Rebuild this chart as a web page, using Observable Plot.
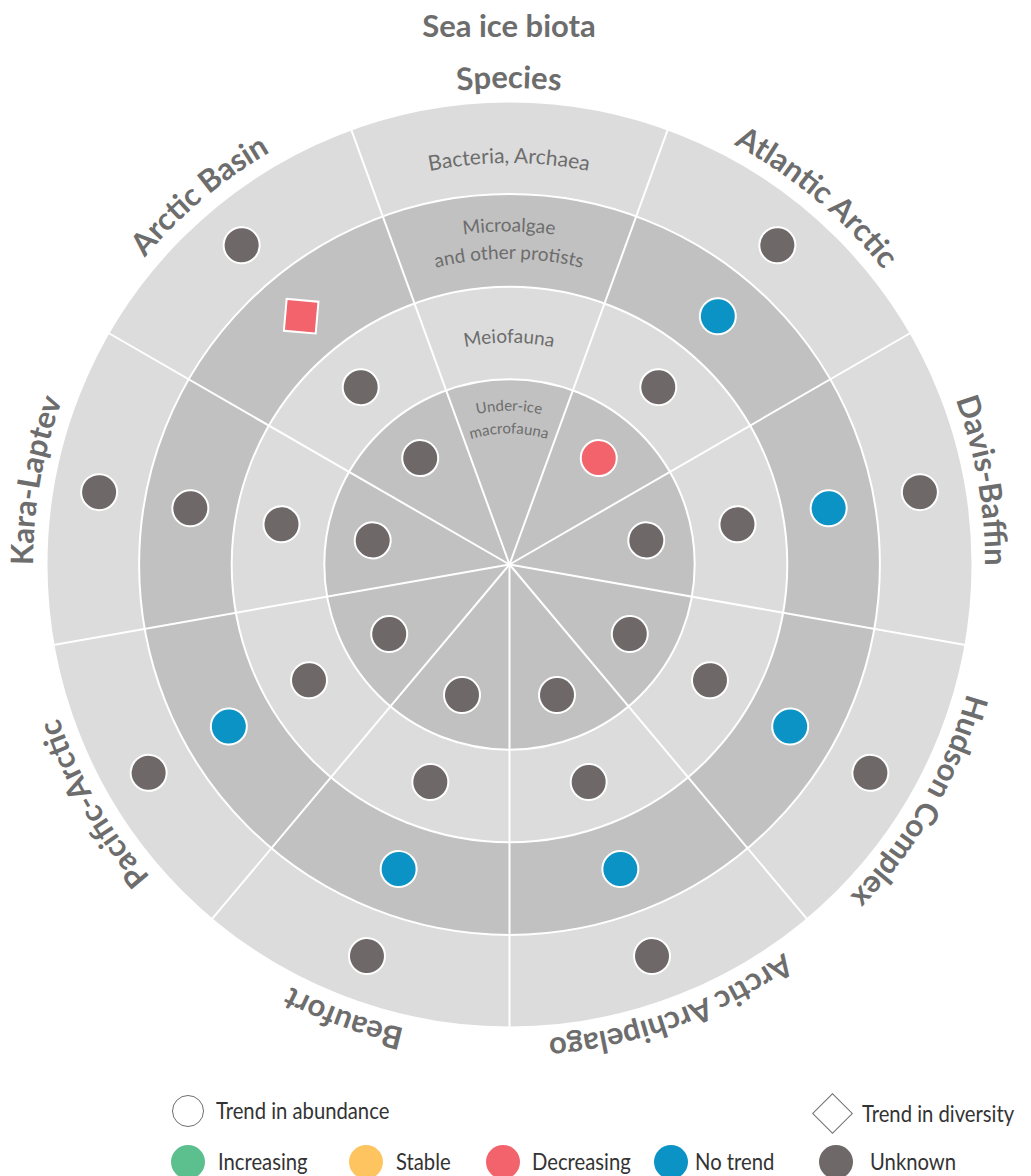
<!DOCTYPE html>
<html>
<head>
<meta charset="utf-8">
<script src="https://cdn.jsdelivr.net/npm/d3@7"></script>
<script src="https://cdn.jsdelivr.net/npm/@observablehq/plot@0.6"></script>
<style>
  body { margin: 0; background: #fff; font-family: Lato, "Open Sans", sans-serif; }
  #wrap { position: relative; width: 1031px; height: 1176px; overflow: hidden; }
  #title { position: absolute; left: 0; top: 6px; width: 1018px; text-align: center;
           font: 700 31px Lato, sans-serif; color: #6d6d6d; }
  #chart { position: absolute; left: 0; top: 50px; }
  .lg { position: absolute; }
  .lgc { position: absolute; border-radius: 50%; box-sizing: border-box; }
  .lgt { position: absolute; font: 400 23px Lato, sans-serif; color: #333; white-space: nowrap;
         transform: scaleX(0.88); transform-origin: 0 50%; line-height: 1; }
</style>
</head>
<body>
<div id="wrap">
  <div id="title">Sea ice biota</div>
  <div id="chart"></div>
  <div id="legend"></div>
</div>
<script>
// ---------- data ----------
const regions = ["Atlantic Arctic", "Davis-Baffin", "Hudson Complex", "Arctic Archipelago",
                 "Beaufort", "Pacific-Arctic", "Kara-Laptev", "Arctic Basin"];
const regionAngles = [40, 80, 120, 160, 200, 240, 280, 320];   // degrees clockwise from north
const speciesLabel = "Species";
const speciesAngle = 0;

const groups = ["Bacteria, Archaea", "Microalgae and other protists", "Meiofauna", "Under-ice macrofauna"];
const groupLabelLines = [["Bacteria, Archaea"], ["Microalgae", "and other protists"], ["Meiofauna"], ["Under-ice", "macrofauna"]];
const groupOuter = [5, 4, 3, 2];          // ring outer radius (ring units)
const groupDotRadius = [4.5, 3.5, 2.5, 1.5];

const bacteriaStatus   = ["Unknown", "Unknown", "Unknown", "Unknown", "Unknown", "Unknown", "Unknown", "Unknown"];
const microalgaeStatus = ["No trend", "No trend", "No trend", "No trend", "No trend", "No trend", "Unknown", "Decreasing"];
const meiofaunaStatus  = ["Unknown", "Unknown", "Unknown", "Unknown", "Unknown", "Unknown", "Unknown", "Unknown"];
const macrofaunaStatus = ["Decreasing", "Unknown", "Unknown", "Unknown", "Unknown", "Unknown", "Unknown", "Unknown"];

const bacteriaType   = ["abundance", "abundance", "abundance", "abundance", "abundance", "abundance", "abundance", "abundance"];
const microalgaeType = ["abundance", "abundance", "abundance", "abundance", "abundance", "abundance", "abundance", "diversity"];
const meiofaunaType  = ["abundance", "abundance", "abundance", "abundance", "abundance", "abundance", "abundance", "abundance"];
const macrofaunaType = ["abundance", "abundance", "abundance", "abundance", "abundance", "abundance", "abundance", "abundance"];

const statusNames  = ["Increasing", "Stable", "Decreasing", "No trend", "Unknown"];
const statusColors = ["#5bbf8e", "#fdc45f", "#f2636c", "#0b93c6", "#6e6868"];
const trendTypes   = ["Trend in abundance", "Trend in diversity"];

// ---------- derived tables ----------
const statusByGroup = [bacteriaStatus, microalgaeStatus, meiofaunaStatus, macrofaunaStatus];
const typeByGroup = [bacteriaType, microalgaeType, meiofaunaType, macrofaunaType];
const rad = a => a * Math.PI / 180;

const rings = groups.map((g, i) => ({group: g, outer: groupOuter[i]}));
const dotRows = [];
groups.forEach((g, gi) => regions.forEach((reg, ri) => dotRows.push({
  group: g, region: reg, angle: regionAngles[ri], r: groupDotRadius[gi],
  status: statusByGroup[gi][ri], type: typeByGroup[gi][ri]
})));
const sectorCenters = [speciesAngle, ...regionAngles];
const edges = sectorCenters.map(a => ({angle: a - 20, r: groupOuter[0]}));

// ---------- layout ----------
const U = 92.6, CX = 509, CY = 514, W = 1031, H = 1030;
const ringLight = "#dcdcdc", ringDark = "#c1c1c1";
const textGray = "#6d6d6d";
const outerLabelR = 5.14;
const groupLabelR = [[4.33], [3.59, 3.295], [2.39], [1.655, 1.41]];
const groupLabelSize = [21, 19, 19, 15];

// curved text along clockwise circle arcs, placed through Plot's scales.
let uid = 0;
function curvedText(labels) {
  return (index, scales) => {
    const ns = "http://www.w3.org/2000/svg";
    const g = document.createElementNS(ns, "g");
    const cx = scales.x(0), cy = scales.y(0);
    labels.forEach(lab => {
      lab.lines.forEach((line, li) => {
        const R = scales.x(lab.r[li]) - scales.x(0);
        const pt = a => [cx + R * Math.sin(rad(a)), cy - R * Math.cos(rad(a))];
        const [x0, y0] = pt(lab.angle - 90), [x1, y1] = pt(lab.angle), [x2, y2] = pt(lab.angle + 90);
        const id = "arc" + (uid++);
        const path = document.createElementNS(ns, "path");
        path.setAttribute("id", id);
        path.setAttribute("fill", "none");
        path.setAttribute("stroke", "none");
        path.setAttribute("d", `M${x0},${y0}A${R},${R} 0 0 1 ${x1},${y1}A${R},${R} 0 0 1 ${x2},${y2}`);
        g.appendChild(path);
        const text = document.createElementNS(ns, "text");
        text.setAttribute("fill", textGray);
        text.setAttribute("font-family", "Lato, 'Open Sans', sans-serif");
        text.setAttribute("font-size", lab.size);
        text.setAttribute("font-weight", lab.weight);
        text.setAttribute("text-anchor", "middle");
        const tp = document.createElementNS(ns, "textPath");
        tp.setAttribute("href", "#" + id);
        tp.setAttributeNS("http://www.w3.org/1999/xlink", "xlink:href", "#" + id);
        tp.setAttribute("startOffset", "50%");
        tp.textContent = line;
        text.appendChild(tp);
        g.appendChild(text);
      });
    });
    return g;
  };
}

const outerLabels = [{text: speciesLabel, angle: speciesAngle},
                     ...regions.map((r, i) => ({text: r, angle: regionAngles[i]}))]
  .map(d => ({lines: [d.text], angle: d.angle, r: [outerLabelR], size: 31, weight: 700}));
const innerLabels = groupLabelLines.map((lines, gi) => ({
  lines, angle: speciesAngle, r: groupLabelR[gi], size: groupLabelSize[gi], weight: 400
}));

const chart = Plot.plot({
  width: W, height: H, margin: 0,
  style: {background: "transparent"},
  x: {domain: [-CX / U, (W - CX) / U], range: [0, W], axis: null},
  y: {domain: [-(H - CY) / U, CY / U], range: [H, 0], axis: null},
  r: {type: "linear", domain: [0, 5], range: [0, 5 * U]},
  color: {domain: statusNames, range: statusColors},
  symbol: {domain: ["abundance", "diversity"], range: ["circle", "square"]},
  marks: [
    ...rings.map((ring, i) => Plot.dot([ring], {
      x: () => 0, y: () => 0, r: "outer",
      fill: i % 2 === 0 ? ringLight : ringDark, stroke: "white", strokeWidth: 2
    })),
    Plot.link(edges, {
      x1: () => 0, y1: () => 0,
      x2: d => d.r * Math.sin(rad(d.angle)), y2: d => d.r * Math.cos(rad(d.angle)),
      stroke: "white", strokeWidth: 2
    }),
    curvedText(innerLabels),
    curvedText(outerLabels),
    Plot.dot(dotRows, {
      x: d => d.r * Math.sin(rad(d.angle)), y: d => d.r * Math.cos(rad(d.angle)),
      fill: "status", symbol: "type", r: 18, rotate: 5,
      stroke: "white", strokeWidth: 2, fillOpacity: 1
    })
  ]
});
document.getElementById("chart").appendChild(chart);

// ---------- legend (HTML, below the SVG) ----------
const legend = document.getElementById("legend");
function add(html) { legend.insertAdjacentHTML("beforeend", html); }
// trend types
add(`<div class="lgc" style="left:172px;top:1095px;width:32px;height:32px;border:1.5px solid #6f6f6f;background:#fff"></div>`);
add(`<div class="lgt" style="left:216px;top:1099px">${trendTypes[0]}</div>`);
add(`<div class="lg" style="left:818px;top:1099px;width:29px;height:29px;border:1.5px solid #6f6f6f;box-sizing:border-box;transform:rotate(45deg)"></div>`);
add(`<div class="lgt" style="left:862px;top:1102px">${trendTypes[1]}</div>`);
// statuses
const lgX = [188, 366, 503, 671, 836];
const lgTx = [218, 396, 532, 695, 870];
statusNames.forEach((s, i) => {
  add(`<div class="lgc" style="left:${lgX[i] - 17}px;top:1145px;width:34px;height:34px;background:${statusColors[i]}"></div>`);
  add(`<div class="lgt" style="left:${lgTx[i]}px;top:1150px">${s}</div>`);
});
</script>
</body>
</html>
